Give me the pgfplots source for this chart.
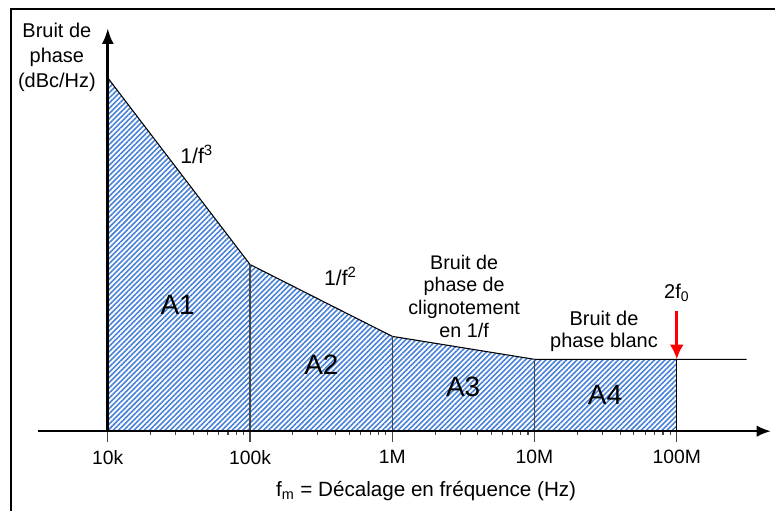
\documentclass[border=0pt]{standalone}
\usepackage{pgfplots}
\pgfplotsset{compat=1.18}
\usetikzlibrary{arrows.meta,patterns.meta}
\usepackage{fontspec}
\setmainfont{Liberation Sans}
\definecolor{hatchblue}{RGB}{72,130,215}
\definecolor{tickgray}{RGB}{70,70,70}

\begin{document}
\begin{tikzpicture}
\begin{axis}[
    scale only axis,
    width=582pt, height=384pt,
    xmode=log,
    xmin=1747, xmax=4.87e8,
    ymin=-80, ymax=432,
    axis x line=middle,
    axis y line=none,
    x axis line style={draw=none},
    xtick={1e4,1e5,1e6,1e7,1e8},
    xticklabels={10k,100k,1M,10M,100M},
    minor xtick={},
    ytick=\empty,
    tick align=outside,
    major tick length=8pt,
    tick style={tickgray, line width=0.8pt},
    xticklabel style={font=\fontsize{14.5}{17}\selectfont, yshift=-3pt},
    clip=false,
]
% frame
\path (rel axis cs:0,0) rectangle (rel axis cs:1,1);
\draw[line width=2.2pt] (rel axis cs:0.0142,0) -- (rel axis cs:0.0142,0.9824) -- (rel axis cs:1,0.9824);

% hatched area
\addplot[draw=none, pattern={Lines[angle=45,distance=2.75pt,line width=1.2pt]}, pattern color=hatchblue]
    coordinates {(1e4,0)(1e4,354)(1e5,167)(1e6,95)(1e7,72)(1e8,72)(1e8,0)} -- cycle;

% spectrum outline
\addplot[black, line width=0.8pt] coordinates {(1e4,354)(1e5,167)(1e6,95)(1e7,72)(1e8,72)(3.1e8,72)};
\addplot[tickgray, line width=0.8pt] coordinates {(1e5,0)(1e5,167)};
\addplot[tickgray, line width=0.8pt] coordinates {(1e6,0)(1e6,95)};
\addplot[tickgray, line width=0.8pt] coordinates {(1e7,0)(1e7,72)};
\addplot[black, line width=0.9pt] coordinates {(1e8,0)(1e8,72)};

% axes
\draw[line width=1.1pt, -{Latex[length=10.5pt,width=8.5pt]}] (axis cs:3228,0) -- (axis cs:4.57e8,0);
\draw[line width=2.3pt, -{Latex[length=12pt,width=9pt]}] (axis cs:1e4,0) -- (axis cs:1e4,404);

% red arrow
\draw[red, line width=2.2pt, -{Latex[length=11pt,width=10.5pt]}] (axis cs:1e8,120) -- (axis cs:1e8,72);

% labels
\node[align=center, font=\fontsize{15}{18.75}\selectfont] at (axis cs:4385,375) {Bruit de\\phase\\(dBc/Hz)};
\node[font=\fontsize{16}{19}\selectfont] at (axis cs:42130,277) {1/f\textsuperscript{3}};
\node[font=\fontsize{16}{19}\selectfont] at (axis cs:431500,155) {1/f\textsuperscript{2}};
\node[align=center, font=\fontsize{14.8}{17.25}\selectfont] at (axis cs:3.2e6,135) {Bruit de\\phase de\\clignotement\\en 1/f};
\node[align=center, font=\fontsize{15}{17}\selectfont] at (axis cs:3.08e7,100) {Bruit de\\phase blanc};
\node[font=\fontsize{15}{18}\selectfont] at (axis cs:1e8,139) {2f\textsubscript{0}};
\node[font=\fontsize{21}{25}\selectfont] at (axis cs:30980,127) {A1};
\node[font=\fontsize{21}{25}\selectfont] at (axis cs:317700,67) {A2};
\node[font=\fontsize{21}{25}\selectfont] at (axis cs:3.15e6,44) {A3};
\node[font=\fontsize{21}{25}\selectfont] at (axis cs:3.13e7,36) {A4};
\node[font=\fontsize{15.5}{18}\selectfont] at (axis cs:1.732e6,-60) {f\textsubscript{m} = Décalage en fréquence (Hz)};
\end{axis}
\end{tikzpicture}
\end{document}
